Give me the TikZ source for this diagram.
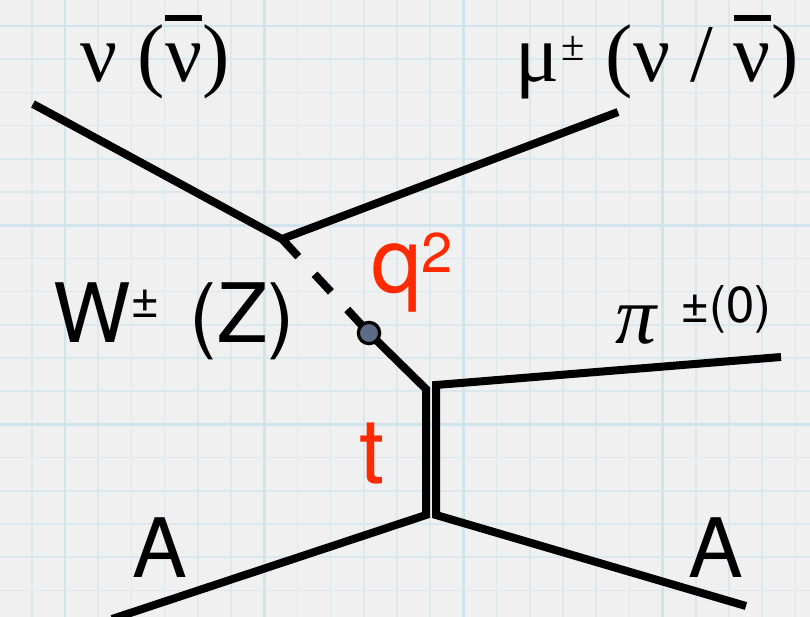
\documentclass[tikz,border=0pt]{standalone}
\usepackage{fontspec}
\newfontfamily\heros{TeX Gyre Heros}
\newfontfamily\tms{Liberation Serif}
\definecolor{bg}{HTML}{F0F0F0}
\definecolor{gridminor}{HTML}{DAE9F0}
\definecolor{gridmajor}{HTML}{D0E4ED}
\definecolor{lbred}{HTML}{FF2A00}
\definecolor{dotfill}{HTML}{5C6C86}
\newcommand\bigsz{\fontsize{61.5pt}{70pt}\selectfont}
\newcommand\redsz{\fontsize{68pt}{76pt}\selectfont}
\newcommand\smsz{\fontsize{32pt}{38pt}\selectfont}
\newcommand\supsz{\fontsize{38pt}{45pt}\selectfont}
\newcommand\redsupsz{\fontsize{42pt}{48pt}\selectfont}
\newcommand\barnu{\setbox0=\hbox{ν}\rlap{\rule[45.75pt]{\wd0}{4.5pt}}\box0}
\begin{document}
\begin{tikzpicture}[x=0.75pt,y=-0.75pt,
  fline/.style={line width=6pt, line join=miter, black},
  dashline/.style={line width=6pt, dash pattern=on 18pt off 18pt, black},
  dotnode/.style={circle, fill=dotfill, draw=black, line width=2.4pt, minimum size=16pt, inner sep=0pt},
  lbl/.style={inner sep=0pt, anchor=base west},
  sanslbl/.style={lbl, font=\heros\bigsz},
  seriflbl/.style={lbl, font=\tms\bigsz},
  redlbl/.style={lbl, font=\heros\redsz, text=lbred}]
\fill[bg] (0,0) rectangle (810,617);
\useasboundingbox (0,0) rectangle (810,617);
% grid
\foreach \k in {0,...,24} \draw[gridminor, line width=1.3pt] ({-1.4+33.2*\k},0) -- ++(0,617);
\foreach \k in {0,...,17} \draw[gridminor, line width=1.3pt] (0,{26+33.2*\k}) -- ++(810,0);
\foreach \k in {0,...,3} \draw[gridmajor, line width=2pt] ({65+199.2*\k},0) -- ++(0,617);
\foreach \k in {0,...,2} \draw[gridmajor, line width=2pt] (0,{26+199.2*\k}) -- ++(810,0);
% vertices
\coordinate (nuin) at (33,104);
\coordinate (v1) at (282,239);
\coordinate (muout) at (618,112);
\coordinate (dotc) at (369,333);
\coordinate (tl) at (426,389);
\coordinate (bl) at (426,515);
\coordinate (tr) at (436,385);
\coordinate (br) at (436,515);
\coordinate (piout) at (781,357);
\coordinate (ain) at (112,619);
\coordinate (aout) at (746,606);
% lines
\draw[fline, line join=round] (nuin) -- (v1) -- (muout);
\draw[dashline] (v1) -- (dotc);
\draw[fline] (dotc) -- (tl) -- (bl) -- (ain);
\draw[fline] (piout) -- (tr) -- (br) -- (aout);
\node[dotnode] (dot) at (dotc) {};
% labels
\node[seriflbl] (nu) at (80,82) {ν (\barnu)};
\node[seriflbl] (mu) at (515,82) {μ\hspace{2pt}\raisebox{15.75pt}{\smsz ±} (ν / \barnu)};
\node[sanslbl] (w) at (53,342) {W\raisebox{18.75pt}{\supsz ±}\hspace{5pt} (Z)};
\node[redlbl] (q) at (371,292) {q\raisebox{15pt}{\redsupsz 2}};
\node[redlbl] (t) at (359,483) {t};
\node[lbl, font=\tms\itshape\bigsz] (pi) at (615,343) {π};
\node[lbl, font=\heros\supsz] (pich) at (680,322) {±(0)};
\node[sanslbl] (a1) at (132,577) {A};
\node[sanslbl] (a2) at (688,577) {A};
\end{tikzpicture}
\end{document}
